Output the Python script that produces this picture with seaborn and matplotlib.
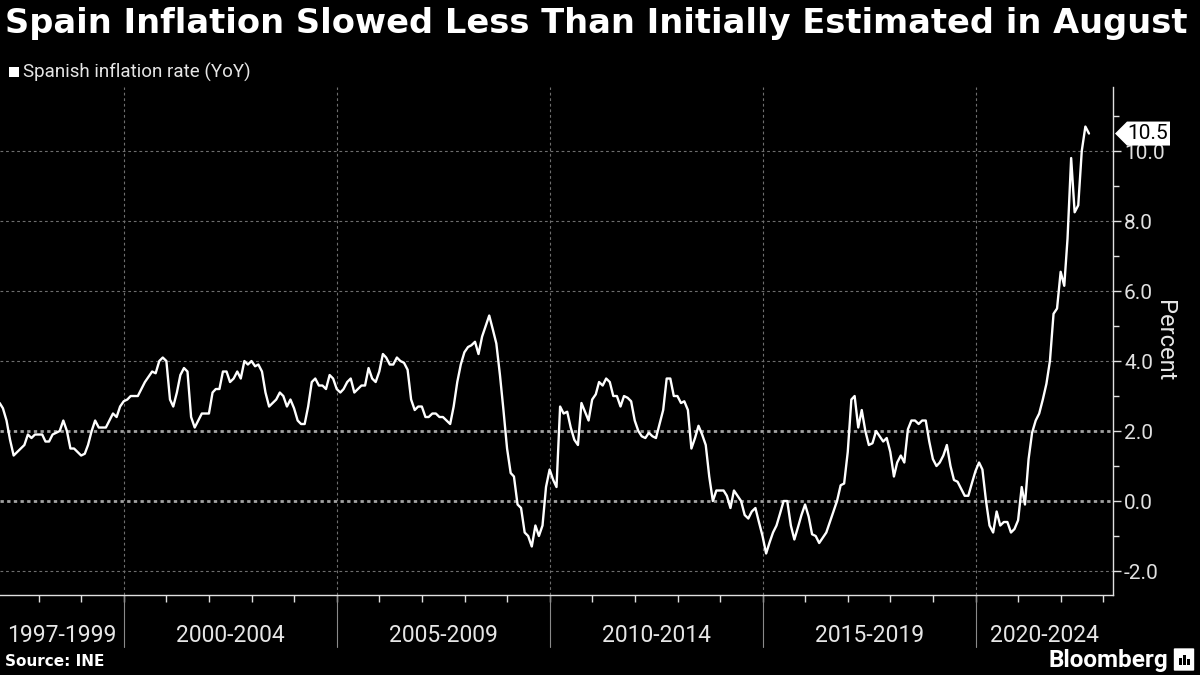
import numpy as np
import pandas as pd
import matplotlib
matplotlib.use("Agg")
import matplotlib.pyplot as plt
import matplotlib.dates as mdates
import matplotlib.transforms as mtransforms
from matplotlib.patches import Polygon, Rectangle, FancyBboxPatch
import seaborn as sns

# -------------------------------
# Data: Spanish CPI YoY (%), monthly, Jan 1997 - Aug 2022
# -------------------------------
y1997 = [2.8, 2.65, 2.3, 1.75, 1.3, 1.4, 1.5, 1.6, 1.9, 1.8, 1.9, 1.9]
y1998 = [1.9, 1.7, 1.7, 1.9, 1.95, 2.0, 2.3, 2.0, 1.5, 1.5, 1.4, 1.3]
y1999 = [1.35, 1.6, 2.0, 2.3, 2.1, 2.1, 2.1, 2.3, 2.5, 2.4, 2.7, 2.85]
y2000 = [2.9, 3.0, 3.0, 3.0, 3.2, 3.4, 3.55, 3.7, 3.65, 4.0, 4.1, 4.0]
y2001 = [2.9, 2.7, 3.1, 3.6, 3.8, 3.7, 2.4, 2.1, 2.3, 2.5, 2.5, 2.5]
y2002 = [3.1, 3.2, 3.2, 3.7, 3.7, 3.4, 3.5, 3.7, 3.5, 4.0, 3.9, 4.0]
y2003 = [3.85, 3.9, 3.7, 3.1, 2.7, 2.8, 2.9, 3.1, 3.0, 2.7, 2.9, 2.65]
y2004 = [2.3, 2.2, 2.2, 2.7, 3.4, 3.5, 3.3, 3.3, 3.2, 3.6, 3.5, 3.2]
y2005 = [3.1, 3.2, 3.4, 3.5, 3.1, 3.2, 3.3, 3.3, 3.8, 3.5, 3.4, 3.7]
y2006 = [4.2, 4.1, 3.9, 3.9, 4.1, 4.0, 3.95, 3.75, 2.9, 2.6, 2.7, 2.7]
y2007 = [2.4, 2.4, 2.5, 2.5, 2.4, 2.4, 2.3, 2.2, 2.7, 3.4, 3.9, 4.25]
y2008 = [4.4, 4.45, 4.55, 4.2, 4.7, 5.0, 5.3, 4.9, 4.5, 3.6, 2.6, 1.5]
y2009 = [0.8, 0.7, -0.1, -0.2, -0.9, -1.0, -1.3, -0.7, -1.0, -0.7, 0.4, 0.9]
y2010 = [0.6, 0.4, 2.7, 2.5, 2.55, 2.1, 1.75, 1.6, 2.8, 2.55, 2.3, 2.9]
y2011 = [3.05, 3.4, 3.3, 3.5, 3.4, 3.0, 3.0, 2.7, 3.0, 2.95, 2.85, 2.3]
y2012 = [2.0, 1.85, 1.8, 1.95, 1.85, 1.8, 2.2, 2.6, 3.5, 3.5, 3.0, 3.0]
y2013 = [2.8, 2.85, 2.6, 1.5, 1.8, 2.15, 1.9, 1.6, 0.7, 0.0, 0.3, 0.3]
y2014 = [0.3, 0.15, -0.2, 0.3, 0.15, 0.0, -0.4, -0.5, -0.3, -0.2, -0.6, -1.0]
y2015 = [-1.5, -1.2, -0.9, -0.7, -0.35, 0.0, 0.0, -0.7, -1.1, -0.75, -0.4, -0.1]
y2016 = [-0.45, -0.95, -1.0, -1.2, -1.05, -0.9, -0.6, -0.3, 0.0, 0.45, 0.5, 1.4]
y2017 = [2.9, 3.0, 2.1, 2.6, 2.0, 1.6, 1.65, 2.0, 1.85, 1.7, 1.8, 1.4]
y2018 = [0.7, 1.1, 1.3, 1.1, 2.05, 2.3, 2.3, 2.2, 2.3, 2.3, 1.7, 1.2]
y2019 = [1.0, 1.1, 1.3, 1.6, 1.0, 0.6, 0.55, 0.35, 0.15, 0.15, 0.5, 0.85]
y2020 = [1.1, 0.9, 0.0, -0.7, -0.9, -0.3, -0.7, -0.6, -0.6, -0.9, -0.8, -0.55]
y2021 = [0.4, -0.1, 1.2, 1.95, 2.3, 2.5, 2.9, 3.35, 4.0, 5.35, 5.5, 6.55]
y2022 = [6.15, 7.5, 9.8, 8.25, 8.45, 10.0, 10.7, 10.5]

cpi = (y1997 + y1998 + y1999 + y2000 + y2001 + y2002 + y2003 + y2004 + y2005
       + y2006 + y2007 + y2008 + y2009 + y2010 + y2011 + y2012 + y2013 + y2014
       + y2015 + y2016 + y2017 + y2018 + y2019 + y2020 + y2021 + y2022)

period_labels = ["1997-1999", "2000-2004", "2005-2009", "2010-2014", "2015-2019", "2020-2024"]
period_starts = [1997, 2000, 2005, 2010, 2015, 2020, 2025]
ref_lines = [0, 2]
grid_lines = [-2, 4, 6, 8, 10]

df = pd.DataFrame({
    "date": pd.date_range("1997-01-31", periods=len(cpi), freq="ME"),
    "cpi": cpi,
})

# -------------------------------
# Style
# -------------------------------
sns.set_theme(style="dark", rc={
    "figure.facecolor": "black",
    "axes.facecolor": "black",
    "text.color": "white",
    "axes.labelcolor": "white",
})
plt.rcParams["font.family"] = ["Roboto", "DejaVu Sans"]

fig = plt.figure(figsize=(12, 6.75), dpi=100)
ax = fig.add_axes([0.0, 0.1185, 0.9275, 0.7526])

sns.lineplot(data=df, x="date", y="cpi", ax=ax, color="white", linewidth=1.7)

ax.set_xlim(pd.Timestamp("1997-02-03"), pd.Timestamp("2023-03-25"))
ax.set_ylim(-2.686, 11.83)

# grid lines
for v in grid_lines:
    ax.axhline(v, color="#6e6e6e", lw=0.8, ls=(0, (2.5, 2.5)), zorder=0)
for v in ref_lines:
    ax.axhline(v, color="#a0a0a0", lw=2.0, ls=(0, (1.2, 1.2)), zorder=0)

# period separators + labels
sep_tr = mtransforms.blended_transform_factory(ax.transData, ax.transAxes)
x_lo, x_hi = ax.get_xlim()
for i, lab in enumerate(period_labels):
    a = max(mdates.date2num(pd.Timestamp(f"{period_starts[i]}-01-01")), x_lo)
    b = min(mdates.date2num(pd.Timestamp(f"{period_starts[i + 1]}-01-01")), x_hi)
    ax.text((a + b) / 2, -0.079, lab, transform=sep_tr, ha="center", va="center",
            fontsize=16.5, color="#e6e6e6")
for yr in period_starts[1:-1]:
    d = mdates.date2num(pd.Timestamp(f"{yr}-01-01"))
    ax.axvline(d, color="#6e6e6e", lw=0.8, ls=(0, (2.5, 2.5)), zorder=0)
    ax.plot([d, d], [0, -0.102], transform=sep_tr, color="#8a8a8a", lw=0.8, clip_on=False)

# axes, ticks
sns.despine(ax=ax, left=True, top=True, right=False, bottom=False)
for s in ["right", "bottom"]:
    ax.spines[s].set_color("#e0e0e0")
    ax.spines[s].set_linewidth(1.0)

ax.yaxis.tick_right()
ax.set_yticks([-2, 0, 2, 4, 6, 8, 10])
ax.set_yticks(np.arange(-1, 12, 2), minor=True)
ax.yaxis.set_major_formatter(plt.FuncFormatter(lambda v, _: f"{v:.1f}"))
ax.tick_params(axis="y", which="major", length=6, width=1, colors="#e0e0e0",
               labelsize=15, pad=2, direction="out", right=True, left=False)
ax.tick_params(axis="y", which="minor", length=4, width=1, colors="#e0e0e0",
               direction="out", right=True, left=False)

ax.xaxis.set_major_locator(mdates.YearLocator(1))
ax.tick_params(axis="x", which="major", length=5, width=1, colors="#e0e0e0",
               direction="out", labelbottom=False, bottom=True)
ax.grid(False)

ax.set_xlabel("")
ax.yaxis.set_label_position("right")
ax.set_ylabel("Percent", rotation=270, fontsize=17, color="#e6e6e6", labelpad=8)

# last value tag
last_val = df["cpi"].iloc[-1]
py = ax.transData.transform((x_hi, last_val))[1]
tip = ax.transAxes.transform((1, 0))[0] + 2
tag = Polygon([(tip, py), (tip + 12, py + 12), (tip + 55, py + 12),
               (tip + 55, py - 12), (tip + 12, py - 12)],
              closed=True, facecolor="white", edgecolor="none",
              transform=mtransforms.IdentityTransform())
fig.patches.append(tag)
fig.text(tip + 33, py, f"{last_val:.1f}", transform=mtransforms.IdentityTransform(),
         ha="center", va="center", fontsize=15, color="black")

# titles and footer
fig.text(5 / 1200, 1 - 23 / 675, "Spain Inflation Slowed Less Than Initially Estimated in August",
         ha="left", va="center", fontsize=24.2, fontweight="bold", color="white",
         family=["DejaVu Sans"])
fig.patches.append(Rectangle((9 / 1200, 1 - 77 / 675), 10 / 1200, 10 / 675,
                             transform=fig.transFigure, facecolor="white", edgecolor="none"))
fig.text(23 / 1200, 1 - 72 / 675, "Spanish inflation rate (YoY)", ha="left", va="center",
         fontsize=13.5, color="#e6e6e6")
fig.text(5 / 1200, 1 - 662 / 675, "Source: INE", ha="left", va="center",
         fontsize=11, fontweight="bold", color="white", family=["DejaVu Sans"])
fig.text(1168 / 1200, 1 - 660 / 675, "Bloomberg", ha="right", va="center",
         fontsize=17.5, fontweight="bold", color="white")
fig.patches.append(FancyBboxPatch((1175 / 1200, 1 - 670 / 675), 18 / 1200, 21 / 675,
                                  boxstyle="round,pad=0.001", transform=fig.transFigure,
                                  facecolor="white", edgecolor="none"))
for bx, bh in [(1179, 7), (1183, 10), (1187, 6)]:
    fig.patches.append(Rectangle((bx / 1200, 1 - 665 / 675), 2.5 / 1200, bh / 675,
                                 transform=fig.transFigure, facecolor="black", edgecolor="none"))

fig.savefig("out.png", dpi=100, facecolor="black")
